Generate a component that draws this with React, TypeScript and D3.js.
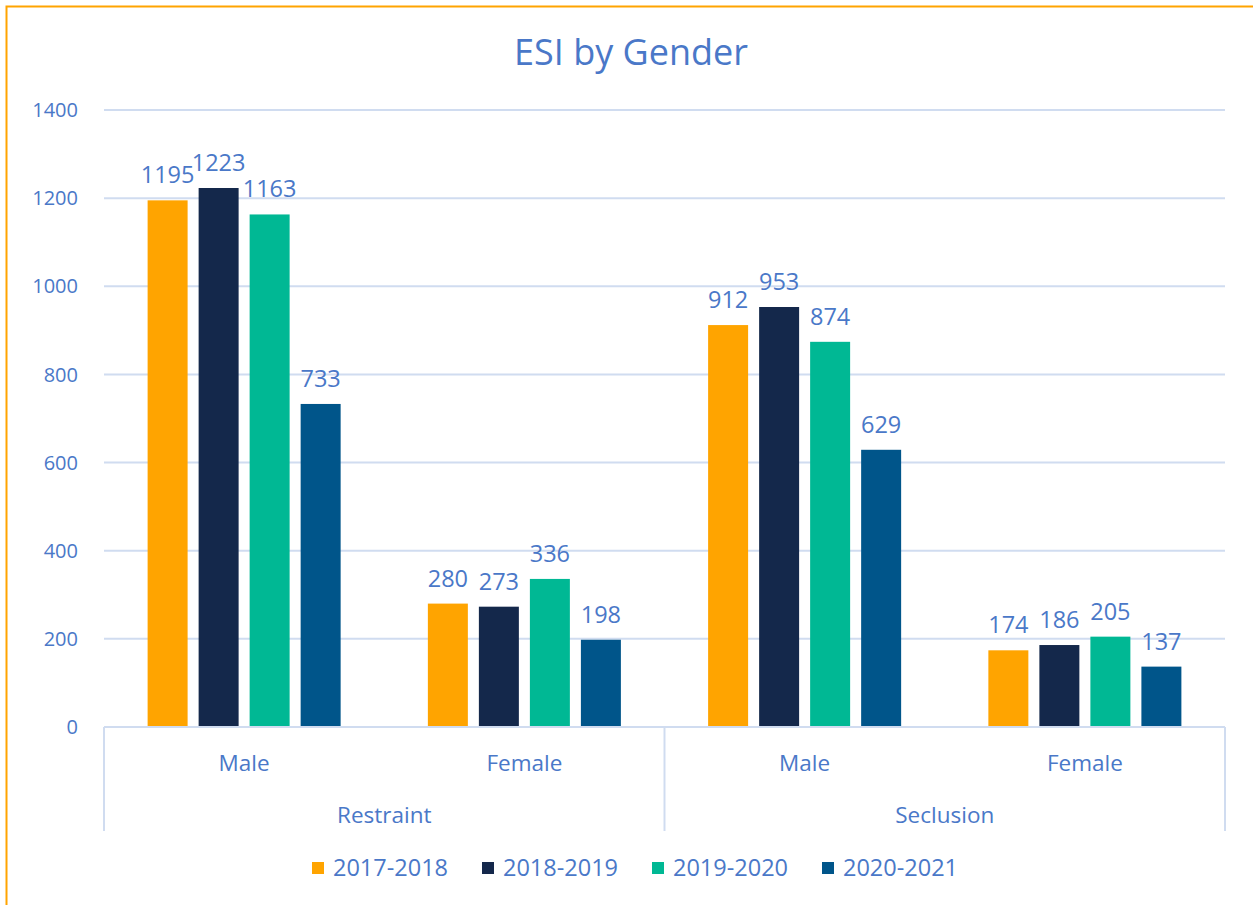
import React from "react";
import * as d3 from "d3";

const title = "ESI by Gender";
const groups = ["Restraint", "Seclusion"];
const genders = ["Male", "Female"];
const seriesNames = ["2017-2018", "2018-2019", "2019-2020", "2020-2021"];
const seriesColors = ["#FFA400", "#14284B", "#00B894", "#00558A"];
// values per series, order: Restraint-Male, Restraint-Female, Seclusion-Male, Seclusion-Female
const s2017 = [1195, 280, 912, 174];
const s2018 = [1223, 273, 953, 186];
const s2019 = [1163, 336, 874, 205];
const s2020 = [733, 198, 629, 137];
const seriesValues = [s2017, s2018, s2019, s2020];
const yTicks = [0, 200, 400, 600, 800, 1000, 1200, 1400];

export default function App() {
  const W = 1253, H = 905;
  const left = 104, right = 1225, top = 110, bottom = 727;
  const font = "'Open Sans', sans-serif";
  const textColor = "#4A78C8";
  const gridColor = "#D0DCF0";

  const cats = groups.flatMap((g) => genders.map((s) => `${g}|${s}`));
  const x0 = d3.scaleBand<string>().domain(cats).range([left, right]).paddingInner(0).paddingOuter(0);
  const x1 = d3.scaleBand<string>().domain(seriesNames).range([0, x0.bandwidth()]).paddingInner(0.216).paddingOuter(0.855);
  const y = d3.scaleLinear().domain([0, 1400]).range([bottom, top]);
  const groupBand = d3.scaleBand<string>().domain(groups).range([left, right]);

  return (
    <svg width={W} height={H} style={{ position: "absolute", left: 0, top: 0 }}>
      <rect x={0} y={0} width={W} height={H} fill="#fff" />
      <path d={`M6.5,${H + 10} V6.5 H${W + 10}`} fill="none" stroke="#FFA400" strokeWidth={2} />
      <text x={631} y={65} textAnchor="middle" fontFamily={font} fontSize={36} fill={textColor}>{title}</text>
      {yTicks.map((t) => (
        <g key={t}>
          {t > 0 && <line x1={left} x2={right} y1={y(t)} y2={y(t)} stroke={gridColor} strokeWidth={2} />}
          <text x={78} y={y(t)} dy="0.36em" textAnchor="end" fontFamily={font} fontSize={20} fill={textColor}>{t}</text>
        </g>
      ))}
      {seriesValues.map((vals, si) =>
        vals.map((v, ci) => {
          const bx = (x0(cats[ci]) as number) + (x1(seriesNames[si]) as number);
          return (
            <g key={`${si}-${ci}`}>
              <rect x={bx} y={y(v)} width={x1.bandwidth()} height={bottom - y(v)} fill={seriesColors[si]} />
              <text x={bx + x1.bandwidth() / 2} y={y(v) - 17} textAnchor="middle" fontFamily={font} fontSize={23.5} fill={textColor}>{v}</text>
            </g>
          );
        })
      )}
      <line x1={left} x2={right} y1={bottom} y2={bottom} stroke={gridColor} strokeWidth={2} />
      {[left, (groupBand(groups[1]) as number), right].map((xx, i) => (
        <line key={i} x1={xx} x2={xx} y1={bottom} y2={831} stroke={gridColor} strokeWidth={2} />
      ))}
      {cats.map((c) => (
        <text key={c} x={(x0(c) as number) + x0.bandwidth() / 2} y={771} textAnchor="middle" fontFamily={font} fontSize={22.5} fill={textColor}>{c.split("|")[1]}</text>
      ))}
      {groups.map((g) => (
        <text key={g} x={(groupBand(g) as number) + groupBand.bandwidth() / 2} y={823} textAnchor="middle" fontFamily={font} fontSize={22.5} fill={textColor}>{g}</text>
      ))}
      {seriesNames.map((s, i) => {
        const lx = 312 + i * 170;
        return (
          <g key={s}>
            <rect x={lx} y={862} width={12} height={12} fill={seriesColors[i]} />
            <text x={lx + 21} y={868} dy="0.35em" fontFamily={font} fontSize={23.5} fill={textColor}>{s}</text>
          </g>
        );
      })}
    </svg>
  );
}
